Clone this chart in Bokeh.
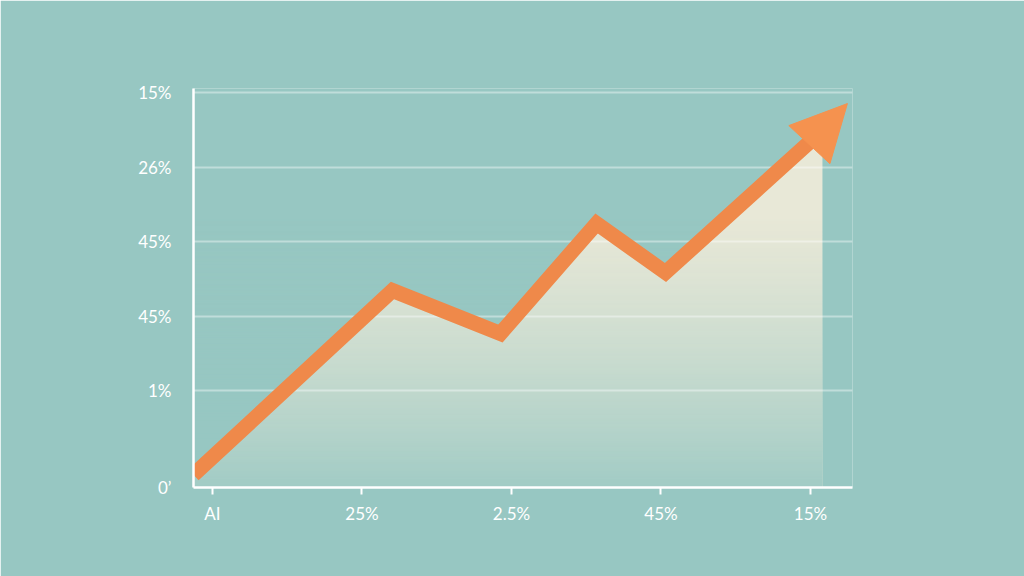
import numpy as np
from bokeh.plotting import figure
from bokeh.models import FixedTicker, Range1d, Arrow, NormalHead
from bokeh.embed import file_html
from bokeh.resources import INLINE

# ---- data ----
X_TICKS = [0, 1, 2, 3, 4]
X_LABELS = ["AI", "25%", "2.5%", "45%", "15%"]
Y_TICKS = [0, 1.3, 2.3, 3.3, 4.3, 5.3]
Y_LABELS = ["0\u2019", "1%", "45%", "45%", "26%", "15%"]
x_vals = [-0.127, 1.204, 1.926, 2.569, 3.030, 4.080]
y_vals = [0.17, 2.644, 2.067, 3.544, 2.886, 4.792]

# ---- style ----
BG = "#97C7C2"
BG_RGB = (0x97, 0xC7, 0xC2)
CREAM = "#ECEAD8"
ORANGE = "#EF894A"
ORANGE_HEAD = "#F5924F"
WHITE = "#FFFFFF"
FONT = "Lato"
HEAD_DX, HEAD_DY = 0.167, 0.362

p = figure(width=1024, height=576,
           x_range=Range1d(-0.127, 4.281), y_range=Range1d(0, 5.356),
           output_backend="svg", toolbar_location=None,
           min_border_left=193, min_border_right=172,
           min_border_top=88, min_border_bottom=89)
p.background_fill_color = BG
p.border_fill_color = BG
p.outline_line_color = None
p.grid.visible = False

# axes
p.xaxis.ticker = FixedTicker(ticks=X_TICKS)
p.xaxis.major_label_overrides = {t: l for t, l in zip(X_TICKS, X_LABELS)}
p.yaxis.ticker = FixedTicker(ticks=Y_TICKS)
p.yaxis.major_label_overrides = {t: l for t, l in zip(Y_TICKS, Y_LABELS)}
for ax in (p.xaxis, p.yaxis):
    ax.axis_line_color = WHITE
    ax.axis_line_width = 2.5
    ax.minor_tick_line_color = None
    ax.major_label_text_color = WHITE
    ax.major_label_text_font = FONT
    ax.major_label_text_font_size = "17px"
p.xaxis.major_tick_line_color = WHITE
p.xaxis.major_tick_line_width = 2
p.xaxis.major_tick_out = 7
p.xaxis.major_tick_in = 0
p.xaxis.major_label_standoff = 8
p.yaxis.major_tick_line_color = None
p.yaxis.major_tick_out = 0
p.yaxis.major_tick_in = 0
p.yaxis.major_label_standoff = 22

# area fill
p.varea(x=x_vals, y1=0, y2=y_vals, fill_color=CREAM, fill_alpha=0.95)

# vertical fade: one translucent image of the background colour over the fill
FADE_TOP = 3.7
N = 256
rows = (np.arange(N) + 0.5) / N
alpha = 0.88 * np.clip(1 - rows, 0, 1) ** 1.3
img = np.zeros((N, 1), dtype=np.uint32)
view = img.view(dtype=np.uint8).reshape((N, 1, 4))
view[:, 0, 0] = BG_RGB[0]
view[:, 0, 1] = BG_RGB[1]
view[:, 0, 2] = BG_RGB[2]
view[:, 0, 3] = (alpha * 255).astype(np.uint8)
p.image_rgba(image=[img], x=x_vals[0], y=0,
             dw=x_vals[-1] - x_vals[0], dh=FADE_TOP)

# gridlines
p.hspan(y=Y_TICKS[1:], line_color=WHITE, line_alpha=0.4, line_width=2)

# line + arrow
p.line(x_vals, y_vals, line_width=15, line_color=ORANGE, line_join="miter")
p.add_layout(Arrow(x_start=x_vals[-1], y_start=y_vals[-1],
                   x_end=x_vals[-1] + HEAD_DX, y_end=y_vals[-1] + HEAD_DY,
                   line_alpha=0,
                   end=NormalHead(size=56, fill_color=ORANGE_HEAD,
                                  line_color=ORANGE_HEAD, line_width=1)))

open("out.html", "w").write(file_html(p, INLINE))
